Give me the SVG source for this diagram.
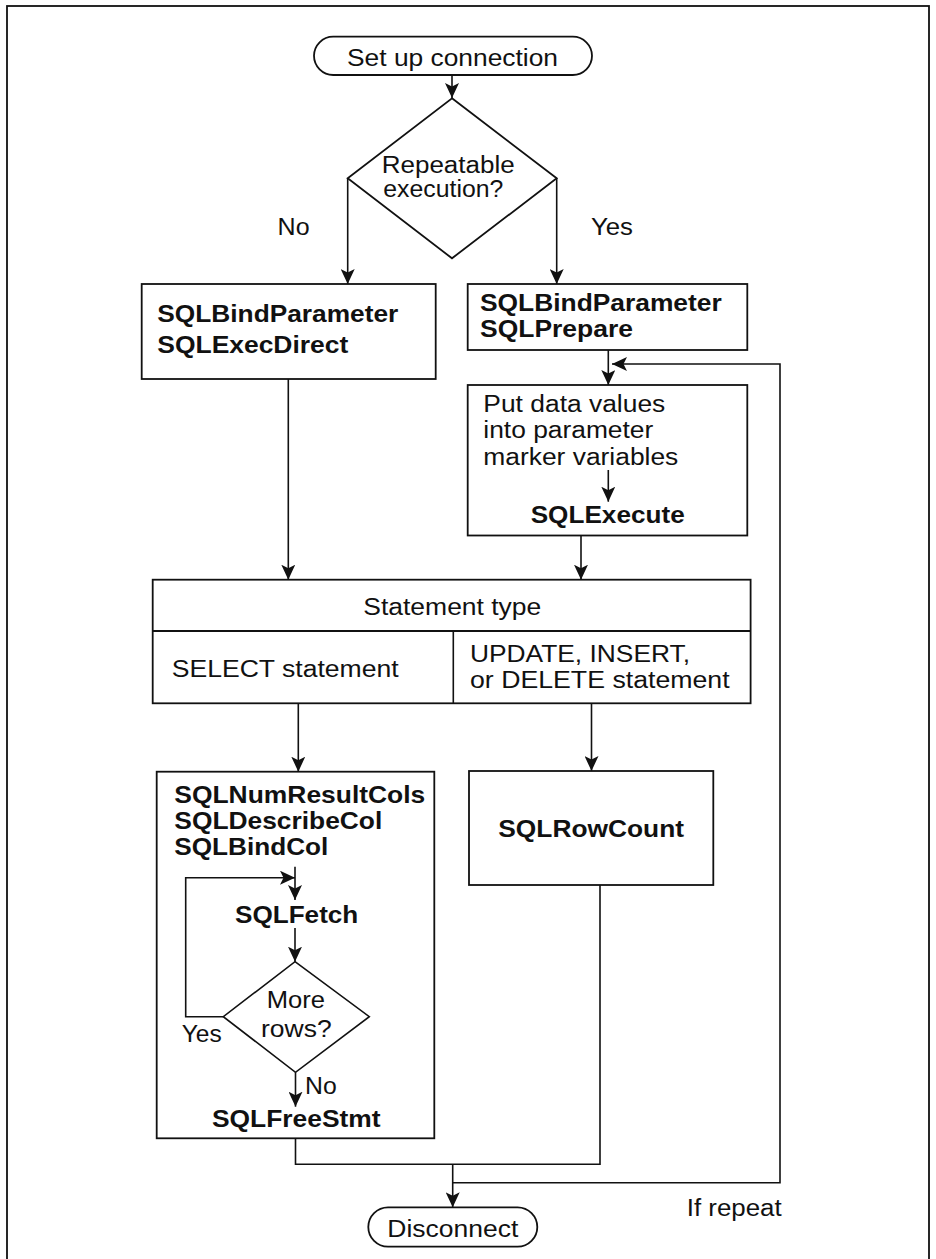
<svg xmlns="http://www.w3.org/2000/svg" width="936" height="1259" viewBox="0 0 936 1259">
<style>
.b{fill:#fff;stroke:#111;stroke-width:1.8}
.c{fill:none;stroke:#111;stroke-width:1.6}
.t{font-family:"Liberation Sans",Arial,sans-serif;font-size:23.5px;fill:#111}
.k{font-family:"Liberation Sans",Arial,sans-serif;font-size:24px;font-weight:bold;fill:#111}
</style>
<defs>
<marker id="ah" viewBox="0 0 15 14" refX="15" refY="7" markerWidth="15" markerHeight="14" markerUnits="userSpaceOnUse" orient="auto">
<path d="M0,0 L15,7 L0,14 L3.5,7 z" fill="#111"/>
</marker>
</defs>
<rect x="7" y="6" width="922" height="1270" fill="#fff" stroke="#111" stroke-width="1.8"/>

<g id="start">
<rect class="b" x="314" y="36.7" width="278" height="38.3" rx="19.2"/>
<text class="t" x="347" y="66" textLength="211" lengthAdjust="spacingAndGlyphs">Set up connection</text>
</g>

<g id="decision-repeatable">
<polygon class="b" points="452,98.3 556.7,178.3 452,258.3 347.7,178.3"/>
<text class="t" x="381.7" y="172.7" textLength="133" lengthAdjust="spacingAndGlyphs">Repeatable</text>
<text class="t" x="383.3" y="196.7" textLength="120" lengthAdjust="spacingAndGlyphs">execution?</text>
</g>

<g id="label-no">
<text class="t" x="277.6" y="234.5" textLength="32" lengthAdjust="spacingAndGlyphs">No</text>
</g>
<g id="label-yes">
<text class="t" x="591" y="234.5" textLength="42" lengthAdjust="spacingAndGlyphs">Yes</text>
</g>

<g id="exec-direct">
<rect class="b" x="141.7" y="284" width="294" height="95"/>
<text class="k" x="157.3" y="321.7" textLength="241" lengthAdjust="spacingAndGlyphs">SQLBindParameter</text>
<text class="k" x="157.3" y="353" textLength="191" lengthAdjust="spacingAndGlyphs">SQLExecDirect</text>
</g>

<g id="prepare">
<rect class="b" x="467.7" y="284" width="279.6" height="66"/>
<text class="k" x="480" y="310.7" textLength="241.7" lengthAdjust="spacingAndGlyphs">SQLBindParameter</text>
<text class="k" x="480" y="336.7" textLength="153" lengthAdjust="spacingAndGlyphs">SQLPrepare</text>
</g>

<g id="execute">
<rect class="b" x="467.7" y="385" width="279.6" height="150.5"/>
<text class="t" x="483.3" y="411.7" textLength="182" lengthAdjust="spacingAndGlyphs">Put data values</text>
<text class="t" x="483.3" y="438.3" textLength="170" lengthAdjust="spacingAndGlyphs">into parameter</text>
<text class="t" x="483.3" y="465" textLength="195" lengthAdjust="spacingAndGlyphs">marker variables</text>
<text class="k" x="530.7" y="523.3" textLength="154" lengthAdjust="spacingAndGlyphs">SQLExecute</text>
</g>

<g id="statement-type">
<rect class="b" x="152.7" y="579.7" width="597.9" height="123.6"/>
<line x1="152.7" y1="631" x2="750.6" y2="631" stroke="#111" stroke-width="1.8"/>
<line x1="453.3" y1="631" x2="453.3" y2="703.3" stroke="#111" stroke-width="1.6"/>
<text class="t" x="363.3" y="615" textLength="178" lengthAdjust="spacingAndGlyphs">Statement type</text>
<text class="t" x="171.7" y="676.7" textLength="227" lengthAdjust="spacingAndGlyphs">SELECT statement</text>
<text class="t" x="470" y="661.7" textLength="220" lengthAdjust="spacingAndGlyphs">UPDATE, INSERT,</text>
<text class="t" x="470" y="688.3" textLength="259.6" lengthAdjust="spacingAndGlyphs">or DELETE statement</text>
</g>

<g id="select-processing">
<rect class="b" x="156.7" y="771.7" width="277.6" height="366.6"/>
<text class="k" x="174.3" y="803.3" textLength="251" lengthAdjust="spacingAndGlyphs">SQLNumResultCols</text>
<text class="k" x="174.3" y="829" textLength="208" lengthAdjust="spacingAndGlyphs">SQLDescribeCol</text>
<text class="k" x="174.3" y="855" textLength="154" lengthAdjust="spacingAndGlyphs">SQLBindCol</text>
<text class="k" x="235" y="922.7" textLength="123.3" lengthAdjust="spacingAndGlyphs">SQLFetch</text>
<text class="k" x="212" y="1127.3" textLength="168.5" lengthAdjust="spacingAndGlyphs">SQLFreeStmt</text>
</g>

<g id="decision-more-rows">
<polygon class="b" points="295,961.7 369.3,1016.7 295.5,1072.3 223.3,1016.7" style="stroke-width:1.6"/>
<text class="t" x="266.7" y="1008.3" textLength="58.3" lengthAdjust="spacingAndGlyphs">More</text>
<text class="t" x="261" y="1036.7" textLength="70.7" lengthAdjust="spacingAndGlyphs">rows?</text>
</g>
<g id="label-yes-2">
<text class="t" x="181.7" y="1041.7" textLength="40" lengthAdjust="spacingAndGlyphs">Yes</text>
</g>
<g id="label-no-2">
<text class="t" x="305" y="1094" textLength="31.7" lengthAdjust="spacingAndGlyphs">No</text>
</g>

<g id="row-count">
<rect class="b" x="469" y="771" width="244.3" height="114"/>
<text class="k" x="498.3" y="837.3" textLength="185.7" lengthAdjust="spacingAndGlyphs">SQLRowCount</text>
</g>

<g id="label-if-repeat">
<text class="t" x="686.7" y="1216" textLength="95" lengthAdjust="spacingAndGlyphs">If repeat</text>
</g>

<g id="disconnect">
<rect class="b" x="368.3" y="1207.3" width="169" height="39.4" rx="19.7"/>
<text class="t" x="387.3" y="1236.7" textLength="131" lengthAdjust="spacingAndGlyphs">Disconnect</text>
</g>

<g id="connectors">
<path class="c" d="M452,75 V98" marker-end="url(#ah)"/>
<path class="c" d="M347.7,178.3 V284" marker-end="url(#ah)"/>
<path class="c" d="M556.7,178.3 V284" marker-end="url(#ah)"/>
<path class="c" d="M288.3,379 V579.7" marker-end="url(#ah)"/>
<path class="c" d="M608.3,350 V385" marker-end="url(#ah)"/>
<path class="c" d="M452.7,1182.7 H780 V364 H612" marker-end="url(#ah)"/>
<path class="c" d="M608.3,470 V501.7" marker-end="url(#ah)"/>
<path class="c" d="M581,535.5 V579.7" marker-end="url(#ah)"/>
<path class="c" d="M298.3,703.3 V771.7" marker-end="url(#ah)"/>
<path class="c" d="M591.5,703.3 V771" marker-end="url(#ah)"/>
<path class="c" d="M295,866.7 V900" marker-end="url(#ah)"/>
<path class="c" d="M223.3,1016.7 H185.7 V877.7 H295" marker-end="url(#ah)"/>
<path class="c" d="M295,928 V961.7" marker-end="url(#ah)"/>
<path class="c" d="M295.5,1072.3 V1106.7" marker-end="url(#ah)"/>
<path class="c" d="M295.5,1138.3 V1164.3 H600 V885"/>
<path class="c" d="M452.7,1164.3 V1207.3" marker-end="url(#ah)"/>
</g>
</svg>
